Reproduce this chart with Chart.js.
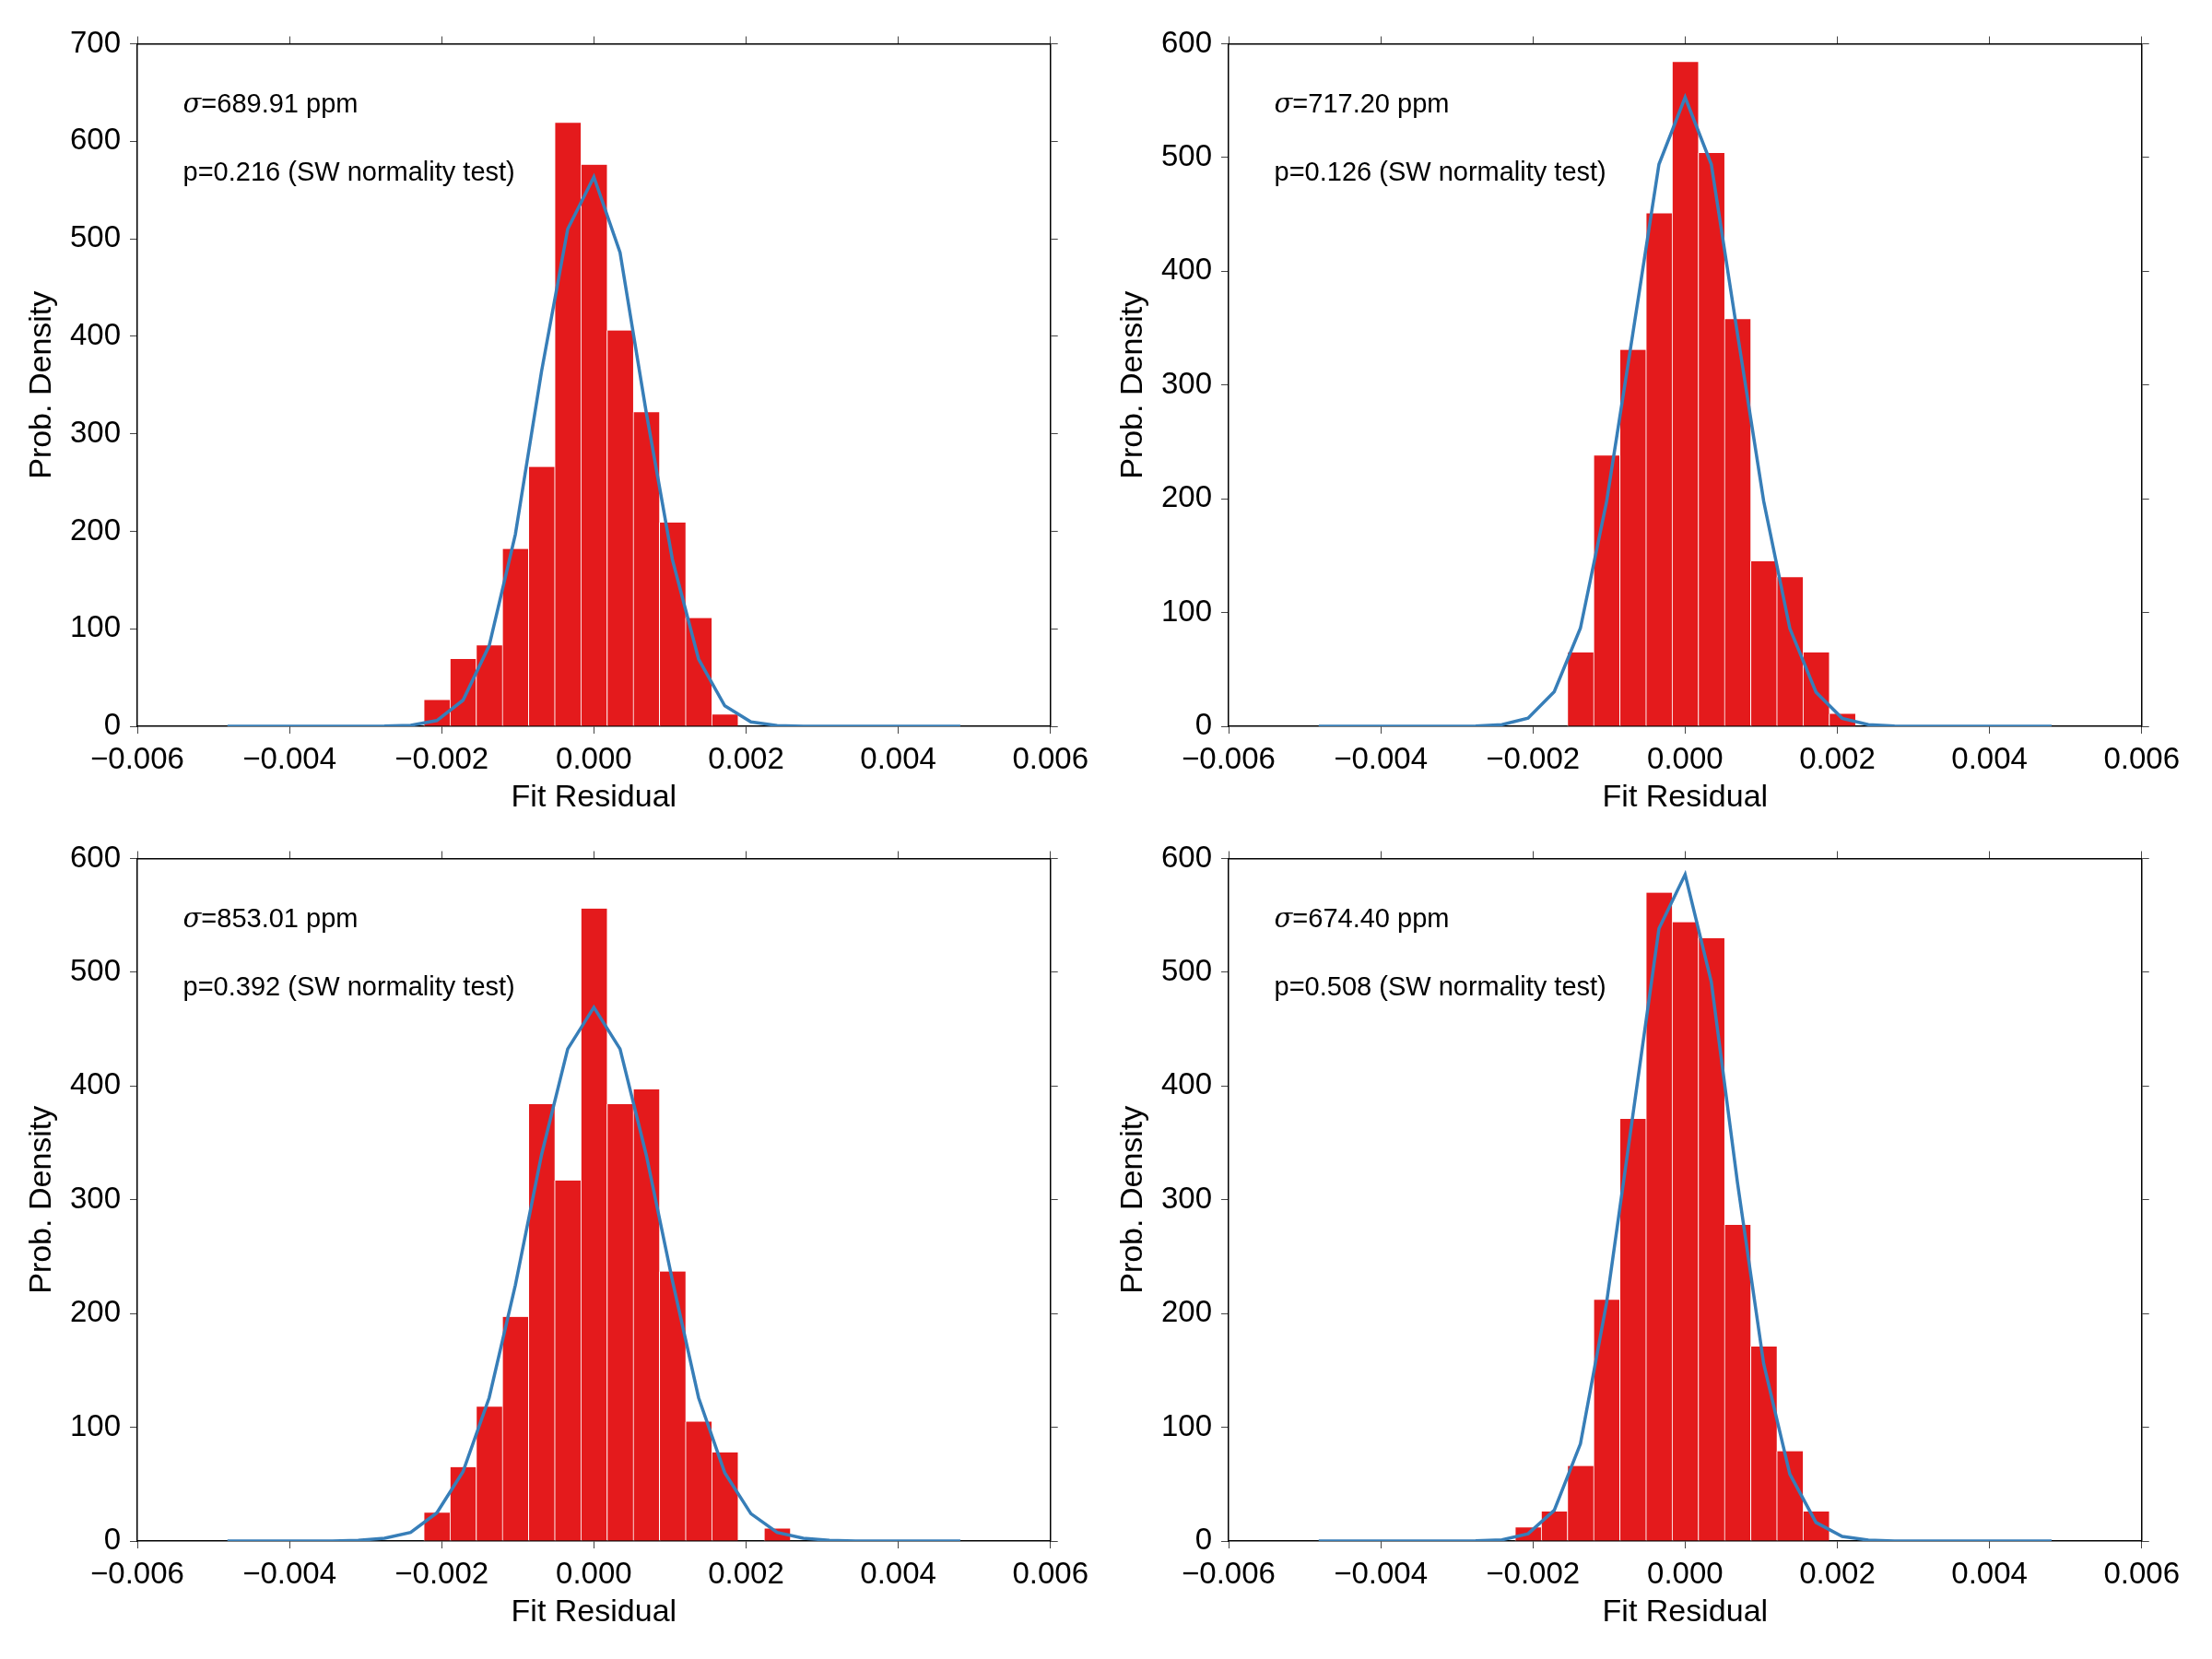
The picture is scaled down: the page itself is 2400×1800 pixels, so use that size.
<!DOCTYPE html>
<html>
<head>
<meta charset="utf-8">
<title>Fit residual histograms</title>
<script src="https://cdn.jsdelivr.net/npm/chart.js@4.4.1/dist/chart.umd.min.js"></script>
<style>
  html, body { margin: 0; padding: 0; background: #fff; }
  #page { position: relative; width: 2400px; height: 1800px; background: #fff; overflow: hidden; }
  #page canvas { position: absolute; width: 1190px; height: 900px; }
</style>
</head>
<body>
<div id="page">
  <canvas id="panelTL" width="1190" height="900" style="left:0px;top:0px"></canvas>
  <canvas id="panelTR" width="1190" height="900" style="left:1184px;top:0px"></canvas>
  <canvas id="panelBL" width="1190" height="900" style="left:0px;top:884px"></canvas>
  <canvas id="panelBR" width="1190" height="900" style="left:1184px;top:884px"></canvas>
</div>
<script>
// Residual grid: histogram bin centres, also where the normal curve is sampled
const residualGrid = [
  -0.004816, -0.004472, -0.004128, -0.003784, -0.00344, -0.003096, -0.002752,
  -0.002408, -0.002064, -0.00172, -0.001376, -0.001032, -0.000688, -0.000344,
  0,
  0.000344, 0.000688, 0.001032, 0.001376, 0.00172, 0.002064, 0.002408,
  0.002752, 0.003096, 0.00344, 0.003784, 0.004128, 0.004472, 0.004816
];

// Histogram densities on the grid (null = no bar)
const densityTL = [null, null, null, null, null, null, null, null,
  27, 69, 83, 182, 266, 619, 576, 406, 322, 209, 111, 12,
  null, null, null, null, null, null, null, null, null];
const densityTR = [null, null, null, null, null, null, null, null, null, null,
  65, 238, 331, 451, 584, 504, 358, 145, 131, 65, 11,
  null, null, null, null, null, null, null, null];
const densityBL = [null, null, null, null, null, null, null, null,
  25, 65, 118, 197, 384, 317, 556, 384, 397, 237, 105, 78, null, 11,
  null, null, null, null, null, null, null];
const densityBR = [null, null, null, null, null, null, null, null,
  12, 26, 66, 212, 371, 570, 544, 530, 278, 171, 79, 26,
  null, null, null, null, null, null, null, null, null];

// Fitted normal curve
const curveTL = [0, 0, 0, 0, 0, 0, 0.2,
  1, 5.9, 26.7, 82.6, 196.8, 364, 510, 563.5, 486, 322, 171, 69, 21, 4.5, 0.8,
  0.1, 0, 0, 0, 0, 0, 0];
const curveTR = [0, 0, 0, 0, 0, 0, 0.3,
  1.5, 7.2, 30.4, 86.3, 197.6, 345, 494, 553, 494, 345, 198, 86, 30, 7, 1.5,
  0.3, 0, 0, 0, 0, 0, 0];
const curveBL = [0, 0, 0, 0, 0.1, 0.6,
  2.5, 7.6, 24.7, 61, 126, 225, 339.5, 432.6, 469.2, 432.6, 339.5, 229, 126, 60, 24, 7.6, 2.5,
  0.6, 0.1, 0, 0, 0, 0];
const curveBR = [0, 0, 0, 0, 0, 0, 0.2,
  1, 6.4, 27, 85.4, 209.7, 374, 538.5, 586, 491.6, 315, 156, 58.8, 16.3, 4, 0.8,
  0.1, 0, 0, 0, 0, 0, 0];

// Per-panel text and axis limits
const sigmaLabels = ['689.91', '717.20', '853.01', '674.40'];
const pLabels = ['0.216', '0.126', '0.392', '0.508'];
const yMaxima = [700, 600, 600, 600];
const xLimits = [-0.006, 0.006];
const xStep = 0.002;
const yStep = 100;

Chart.defaults.font.family = "'Liberation Sans', Arial, Helvetica, sans-serif";
Chart.defaults.color = '#000';

const BAR_RED = '#e41a1c';
const CURVE_BLUE = '#377eb8';

function residualTick(v) {
    if (Math.abs(v) < 1e-12) v = 0;
    const s = Math.abs(v).toFixed(3);
    return v < 0 ? '\u2212' + s : s;
}

// sigma / p-value annotation in axes fractions (0.05, 0.9) and (0.05, 0.8)
const statsText = {
    id: 'statsText',
    afterDraw(chart, args, opts) {
        const { ctx, chartArea: a } = chart;
        const h = a.bottom - a.top;
        const x = a.left + 0.05 * (a.right - a.left);
        ctx.save();
        ctx.fillStyle = '#000';
        ctx.textAlign = 'left';
        ctx.textBaseline = 'alphabetic';
        ctx.font = "italic 29px 'DejaVu Serif'";
        ctx.fillText('\u03c3', x, a.top + 0.1 * h);
        const w = ctx.measureText('\u03c3').width;
        ctx.font = "29px 'Liberation Sans'";
        ctx.fillText('=' + opts.sigma + ' ppm', x + w, a.top + 0.1 * h);
        ctx.fillText('p=' + opts.p + ' (SW normality test)', x, a.top + 0.2 * h);
        ctx.restore();
    }
};

function tickGrid() {
    return {
        display: true,
        drawOnChartArea: false,
        drawTicks: true,
        tickLength: 8,
        color: '#444',
        lineWidth: 1,
        offset: false
    };
}

const frame = { display: true, color: '#000', width: 1.5 };

function makePanel(canvasId, density, curve, yMax, sigma, p) {
    const ctx = document.getElementById(canvasId).getContext('2d');
    return new Chart(ctx, {
        type: 'bar',
        data: {
            datasets: [
                {
                    type: 'line',
                    data: residualGrid.map((x, i) => ({ x, y: curve[i] })),
                    borderColor: CURVE_BLUE,
                    borderWidth: 3.5,
                    pointRadius: 0,
                    tension: 0,
                    fill: false,
                    order: 0,
                    xAxisID: 'x',
                    yAxisID: 'y'
                },
                {
                    type: 'bar',
                    data: residualGrid.map((x, i) => ({ x, y: density[i] })),
                    backgroundColor: BAR_RED,
                    borderColor: '#ffffff',
                    borderWidth: { left: 1, right: 0, top: 0, bottom: 0 },
                    borderSkipped: false,
                    barPercentage: 1,
                    categoryPercentage: 1,
                    order: 1,
                    xAxisID: 'x',
                    yAxisID: 'y'
                }
            ]
        },
        options: {
            responsive: false,
            animation: false,
            devicePixelRatio: 1,
            layout: { padding: 0 },
            plugins: {
                legend: { display: false },
                tooltip: { enabled: false },
                statsText: { sigma, p }
            },
            scales: {
                x: {
                    type: 'linear',
                    axis: 'x',
                    position: 'bottom',
                    min: xLimits[0],
                    max: xLimits[1],
                    offset: false,
                    z: 1,
                    ticks: {
                        stepSize: xStep,
                        callback: residualTick,
                        font: { size: 33 },
                        padding: 9,
                        maxRotation: 0,
                        autoSkip: false
                    },
                    grid: tickGrid(),
                    border: frame,
                    title: {
                        display: true,
                        text: 'Fit Residual',
                        font: { size: 34 },
                        padding: { top: 0, bottom: 14 }
                    },
                    afterFit: (s) => { s.height = 112; }
                },
                x2: {
                    type: 'linear',
                    axis: 'x',
                    position: 'top',
                    min: xLimits[0],
                    max: xLimits[1],
                    offset: false,
                    z: 1,
                    ticks: { stepSize: xStep, display: false },
                    grid: tickGrid(),
                    border: frame,
                    afterFit: (s) => { s.height = 47.5; }
                },
                y: {
                    type: 'linear',
                    axis: 'y',
                    position: 'left',
                    min: 0,
                    max: yMax,
                    z: 1,
                    ticks: {
                        stepSize: yStep,
                        font: { size: 33 },
                        padding: 10
                    },
                    grid: tickGrid(),
                    border: frame,
                    title: {
                        display: true,
                        text: 'Prob. Density',
                        font: { size: 34 },
                        padding: { top: 25, bottom: 0 }
                    },
                    afterFit: (s) => { s.width = 149; }
                },
                y2: {
                    type: 'linear',
                    axis: 'y',
                    position: 'right',
                    min: 0,
                    max: yMax,
                    z: 1,
                    ticks: { stepSize: yStep, display: false },
                    grid: tickGrid(),
                    border: frame,
                    afterFit: (s) => { s.width = 49.5; }
                }
            }
        },
        plugins: [statsText]
    });
}

const panels = [];
document.addEventListener('DOMContentLoaded', () => {
    panels.push(makePanel('panelTL', densityTL, curveTL, yMaxima[0], sigmaLabels[0], pLabels[0]));
    panels.push(makePanel('panelTR', densityTR, curveTR, yMaxima[1], sigmaLabels[1], pLabels[1]));
    panels.push(makePanel('panelBL', densityBL, curveBL, yMaxima[2], sigmaLabels[2], pLabels[2]));
    panels.push(makePanel('panelBR', densityBR, curveBR, yMaxima[3], sigmaLabels[3], pLabels[3]));
});
</script>
</body>
</html>
